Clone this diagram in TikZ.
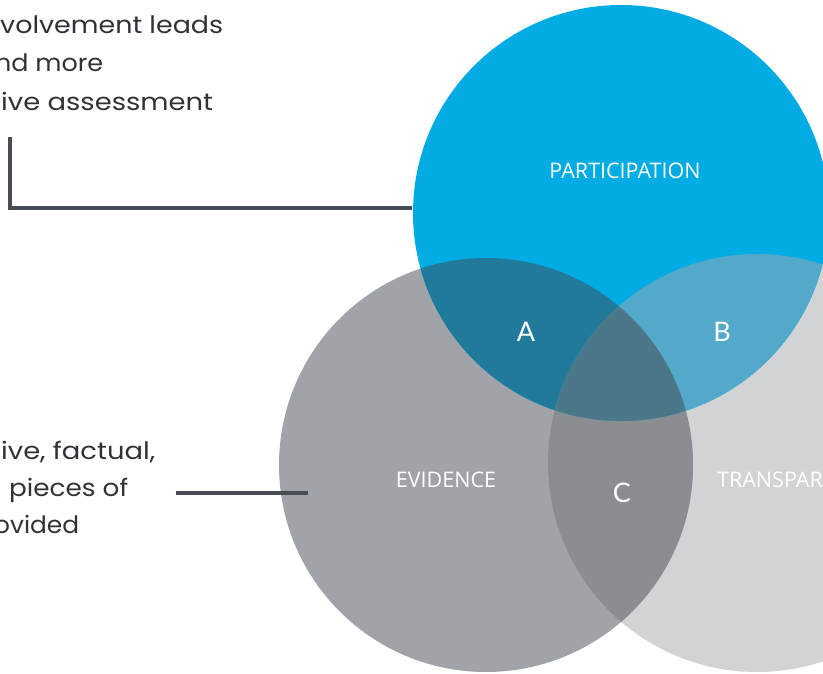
\documentclass[tikz,border=0pt]{standalone}
\usepackage{graphicx}
\usepackage{fontspec}
\setmainfont{Poppins}
\newfontfamily\labelfont{Open Sans}
\newfontfamily\letterfont{Lato}
\definecolor{partblue}{HTML}{00ACE3}
\definecolor{evidgray}{HTML}{A0A3A8}
\definecolor{transgray}{HTML}{D1D3D5}
\definecolor{regA}{HTML}{217A9A}
\definecolor{regB}{HTML}{53A9C9}
\definecolor{regC}{HTML}{8A8D92}
\definecolor{regABC}{HTML}{4A7889}
\definecolor{pinline}{HTML}{474C55}
\definecolor{bodytext}{HTML}{2F3237}
% set a line of note text to a given width, keeping its height
\newcommand\notefit[2]{\resizebox{#1pt}{\height}{#2}}
\begin{document}
\begin{tikzpicture}[x=1pt,y=-1pt,
  note/.style={anchor=base west,inner sep=0pt,text=bodytext,
    font=\fontsize{24}{30}\selectfont},
  setname/.style={inner sep=0pt,text=white,
    font=\labelfont\fontsize{21.5}{26}\selectfont},
  regionletter/.style={inner sep=0pt,text=white,
    font=\letterfont\fontsize{27}{32}\selectfont},
  pin/.style={draw=pinline,line width=4pt}]
\useasboundingbox (0,0) rectangle (823,673);

% circle centres and radii
\coordinate (cP) at (621,213);
\coordinate (cE) at (486,465);
\coordinate (cT) at (757,463);
\def\rP{208}
\def\rE{207}
\def\rT{209}

% base discs
\fill[transgray] (cT) circle[radius=\rT];
\fill[evidgray]  (cE) circle[radius=\rE];
\fill[partblue]  (cP) circle[radius=\rP];

% pairwise overlaps
\begin{scope}
  \clip (cE) circle[radius=\rE];
  \fill[regC] (cT) circle[radius=\rT];
\end{scope}
\begin{scope}
  \clip (cP) circle[radius=\rP];
  \fill[regA] (cE) circle[radius=\rE];
  \fill[regB] (cT) circle[radius=\rT];
\end{scope}
% triple overlap
\begin{scope}
  \clip (cP) circle[radius=\rP];
  \clip (cE) circle[radius=\rE];
  \fill[regABC] (cT) circle[radius=\rT];
\end{scope}

% set names
\node[setname] (nP) at (625,171) {PARTICIPATION};
\node[setname] (nE) at (446,480) {EVIDENCE};
\node[setname,anchor=west] (nT) at (717,480) {TRANSPARENCY};

% region letters
\node[regionletter] (lA) at (526,332) {A};
\node[regionletter] (lB) at (722,332) {B};
\node[regionletter] (lC) at (622,493) {C};

% notes on the left
\node[note] (t1) at (0,33)   {\notefit{223}{volvement leads}};
\node[note] (t2) at (-5,71)  {\notefit{108}{nd more}};
\node[note] (t3) at (1,110)  {\notefit{212}{ive assessment}};

\node[note] (u1) at (1,459)  {\notefit{154}{ive, factual,}};
\node[note] (u2) at (9,496)  {\notefit{119}{pieces of}};
\node[note] (u3) at (-6,533) {\notefit{85}{ovided}};

% pin lines
\coordinate (p1a) at (10,137);
\coordinate (p1b) at (412,208);
\draw[pin] (p1a) |- (p1b);
\coordinate (p2a) at (176,493);
\coordinate (p2b) at (308,493);
\draw[pin] (p2a) -- (p2b);
\end{tikzpicture}
\end{document}
